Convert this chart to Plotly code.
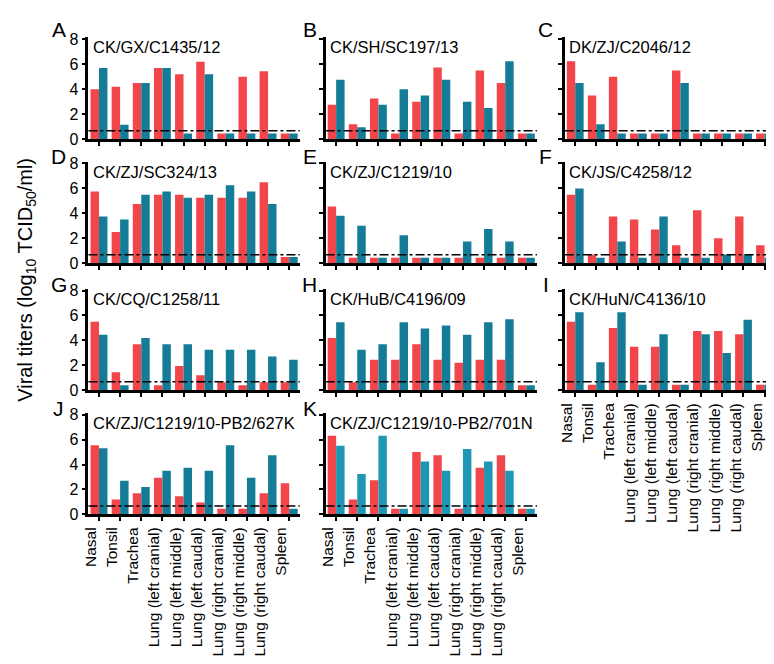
import plotly.graph_objects as go

categories = ["Nasal", "Tonsil", "Trachea", "Lung (left cranial)", "Lung (left middle)",
              "Lung (left caudal)", "Lung (right cranial)", "Lung (right middle)",
              "Lung (right caudal)", "Spleen"]

panel_letters = ["A", "B", "C", "D", "E", "F", "G", "H", "I", "J", "K"]
panel_titles = ["CK/GX/C1435/12", "CK/SH/SC197/13", "DK/ZJ/C2046/12",
                "CK/ZJ/SC324/13", "CK/ZJ/C1219/10", "CK/JS/C4258/12",
                "CK/CQ/C1258/11", "CK/HuB/C4196/09", "CK/HuN/C4136/10",
                "CK/ZJ/C1219/10-PB2/627K", "CK/ZJ/C1219/10-PB2/701N"]

red_A = [4.0, 4.2, 4.5, 5.7, 5.2, 6.2, 0.45, 5.0, 5.45, 0.45]
blue_A = [5.7, 1.15, 4.5, 5.7, 0.45, 5.2, 0.45, 0.45, 0.45, 0.45]
red_B = [2.75, 1.2, 3.25, 0.45, 3.0, 5.75, 0.45, 5.5, 4.5, 0.45]
blue_B = [4.75, 0.95, 2.75, 4.0, 3.5, 4.75, 3.0, 2.5, 6.25, 0.45]
red_C = [6.25, 3.5, 5.0, 0.45, 0.45, 5.5, 0.45, 0.45, 0.45, 0.45]
blue_C = [4.5, 1.2, 0.45, 0.45, 0.45, 4.5, 0.45, 0.45, 0.45, 0.45]
red_D = [5.75, 2.5, 4.75, 5.5, 5.5, 5.25, 5.25, 5.25, 6.5, 0.5]
blue_D = [3.75, 3.5, 5.5, 5.75, 5.25, 5.5, 6.25, 5.75, 4.75, 0.5]
red_E = [4.55, 0.45, 0.45, 0.45, 0.45, 0.45, 0.45, 0.45, 0.45, 0.45]
blue_E = [3.8, 3.0, 0.45, 2.25, 0.45, 0.45, 1.75, 2.75, 1.75, 0.45]
red_F = [5.5, 0.7, 3.75, 3.5, 2.7, 1.45, 4.25, 2.0, 3.75, 1.45]
blue_F = [6.0, 0.45, 1.75, 0.45, 3.75, 0.45, 0.45, 0.7, 0.7, 0.45]
red_G = [5.5, 1.45, 3.7, 0.4, 1.95, 1.2, 0.65, 0.4, 0.65, 0.65]
blue_G = [4.45, 0.4, 4.2, 3.7, 3.7, 3.25, 3.25, 3.25, 2.7, 2.45]
red_H = [4.2, 0.65, 2.45, 2.45, 3.7, 2.45, 2.2, 2.45, 2.45, 0.4]
blue_H = [5.45, 3.25, 3.7, 5.45, 4.95, 5.2, 4.45, 5.45, 5.7, 0.4]
red_I = [5.5, 0.45, 5.0, 3.5, 3.5, 0.45, 4.75, 4.75, 4.5, 0.45]
blue_I = [6.25, 2.25, 6.25, 0.45, 4.5, 0.45, 4.5, 3.0, 5.65, 0.45]
red_J = [5.55, 1.2, 1.7, 2.95, 1.45, 0.95, 0.45, 0.45, 1.7, 2.5]
blue_J = [5.3, 2.7, 2.2, 3.5, 3.75, 3.5, 5.55, 2.95, 4.75, 0.45]
red_K = [6.3, 1.2, 2.75, 0.45, 5.0, 4.75, 0.45, 3.75, 4.75, 0.45]
blue_K = [5.5, 3.25, 6.3, 0.45, 4.25, 3.5, 5.25, 4.25, 3.5, 0.45]

red_series = [red_A, red_B, red_C, red_D, red_E, red_F, red_G, red_H, red_I, red_J, red_K]
blue_series = [blue_A, blue_B, blue_C, blue_D, blue_E, blue_F, blue_G, blue_H, blue_I, blue_J, blue_K]

detection_limit = 0.68
y_ticks = [0, 2, 4, 6, 8]

RED = "#F2464A"
TEAL = "#147C96"
TEAL_K = "#1E97B5"
FONT = "Liberation Sans, Arial, sans-serif"
W, H = 774, 664

col_px = [(75, 288), (314, 527), (555, 767)]
row_px = [(24, 128), (151, 255), (281, 385), (408, 512)]
letter_x = [45, 298, 536]
letter_y = [16, 146, 277, 404]

fig = go.Figure()
layout = dict(width=W, height=H, margin=dict(l=0, r=0, t=0, b=0),
              paper_bgcolor="white", plot_bgcolor="white", showlegend=False,
              barmode="group", bargap=0.2, bargroupgap=0.0,
              font=dict(family=FONT, color="black"))
annotations = []
shapes = []

for i in range(11):
    r, c = divmod(i, 3)
    n = "" if i == 0 else str(i + 1)
    xa, ya = "x" + n, "y" + n
    blue_col = TEAL_K if i == 10 else TEAL
    fig.add_trace(go.Bar(x=categories, y=red_series[i], marker=dict(color=RED, line_width=0),
                         xaxis=xa, yaxis=ya, offsetgroup="r"))
    fig.add_trace(go.Bar(x=categories, y=blue_series[i], marker=dict(color=blue_col, line_width=0),
                         xaxis=xa, yaxis=ya, offsetgroup="b"))
    x0, x1 = col_px[c]
    y0, y1 = row_px[r]
    show_x = i in (8, 9, 10)
    layout["xaxis" + n] = dict(domain=[x0 / W, x1 / W], anchor=ya, type="category",
                               range=[-0.5, 9.5], showline=True, linewidth=2.5, linecolor="black",
                               ticks="outside", ticklen=4, tickwidth=2, tickcolor="black",
                               showgrid=False, zeroline=False, showticklabels=show_x,
                               tickangle=-90, ticklabelshift=-8,
                               tickfont=dict(size=15.5, family=FONT, color="black"))
    layout["yaxis" + n] = dict(domain=[1 - y1 / H, 1 - y0 / H], anchor=xa,
                               range=[0, 8.15], tickvals=y_ticks, showline=True, linewidth=2.5,
                               linecolor="black", ticks="outside", ticklen=4, tickwidth=2,
                               tickcolor="black", showgrid=False, zeroline=False,
                               showticklabels=(c == 0), tickfont=dict(size=16, family=FONT, color="black"))
    shapes.append(dict(type="line", xref=xa + " domain", yref=ya, x0=0, x1=1,
                       y0=detection_limit, y1=detection_limit,
                       line=dict(color="black", width=1.5, dash="dashdot")))
    annotations.append(dict(text=panel_titles[i], xref=xa + " domain", yref=ya, x=0.01, y=7.35,
                            xanchor="left", yanchor="middle", showarrow=False,
                            font=dict(size=16.5, family=FONT, color="black")))
    annotations.append(dict(text=panel_letters[i], xref="paper", yref="paper",
                            x=letter_x[c] / W, y=1 - letter_y[r] / H, xanchor="center",
                            yanchor="middle", showarrow=False,
                            font=dict(size=21, family=FONT, color="black")))

annotations.append(dict(text="Viral titers (log<sub>10</sub> TCID<sub>50</sub>/ml)",
                        xref="paper", yref="paper", x=13 / W, y=1 - 272 / H, textangle=-90,
                        xanchor="center", yanchor="middle", showarrow=False,
                        font=dict(size=20, family=FONT, color="black")))

layout["annotations"] = annotations
layout["shapes"] = shapes
fig.update_layout(**layout)
fig.write_html("out.html")
